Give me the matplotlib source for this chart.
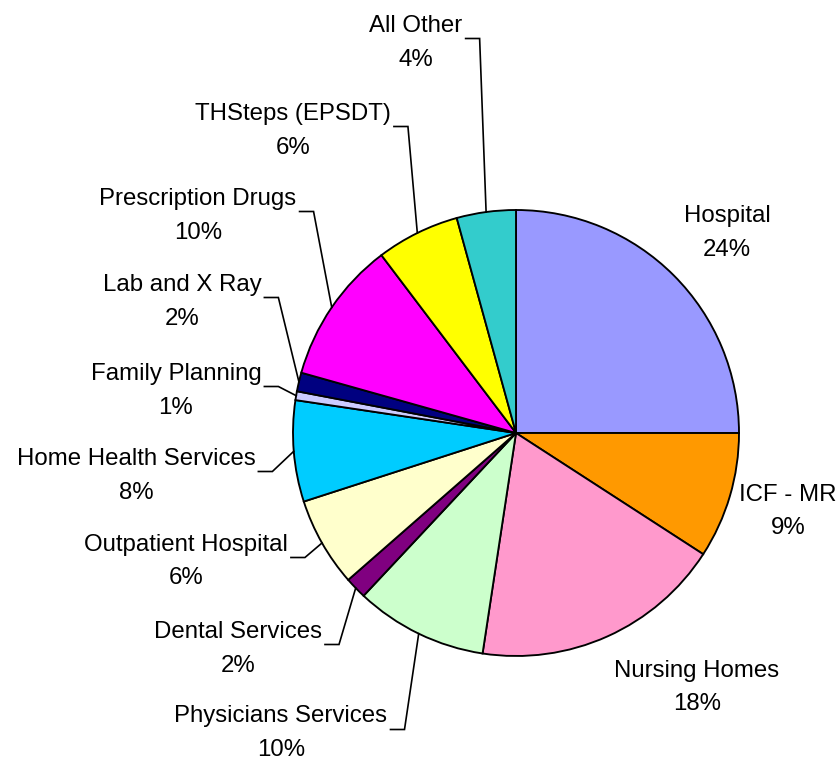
import numpy as np
import matplotlib.pyplot as plt

categories = ["Hospital", "ICF - MR", "Nursing Homes", "Physicians Services",
              "Dental Services", "Outpatient Hospital", "Home Health Services",
              "Family Planning", "Lab and X Ray", "Prescription Drugs",
              "THSteps (EPSDT)", "All Other"]
# wedge sizes as drawn (percent)
shares = [25.0, 9.14, 18.25, 9.58, 1.58, 6.47, 7.33, 0.64, 1.36, 10.33, 6.03, 4.28]
pct_labels = ["24%", "9%", "18%", "10%", "2%", "6%", "8%", "1%", "2%", "10%", "6%", "4%"]
colors = ["#9999FF", "#FF9900", "#FF99CC", "#CCFFCC", "#800080", "#FFFFCC",
          "#00CCFF", "#CCCCFF", "#000080", "#FF00FF", "#FFFF00", "#33CCCC"]

# label layout in image pixels: centre x, centre y of the first line, leader?
label_x = [727, 788, 697, 281, 238, 186, 136, 176, 182, 198, 293, 416]
label_y = [213, 492, 668, 714, 629, 542, 456, 371, 282, 196, 111, 23]
has_leader = [False, False, False] + [True] * 9

W, H = 837, 760
CX, CY, R = 516, 433, 223

fig = plt.figure(figsize=(W / 100, H / 100), dpi=100)
ax = fig.add_axes([0, 0, 1, 1])
wedges, _ = ax.pie(shares, colors=colors, startangle=90, counterclock=False,
                   center=(CX, H - CY), radius=R,
                   wedgeprops=dict(edgecolor="black", linewidth=1.35))
ax.set_xlim(0, W)
ax.set_ylim(0, H)
ax.set_aspect("equal")
ax.axis("off")

font = dict(fontsize=17.3, family=["Liberation Sans", "DejaVu Sans"], color="black")
name_texts = []
for name, pct, x, y in zip(categories, pct_labels, label_x, label_y):
    t = ax.text(x, H - (y + 8.5), name, ha="center", va="baseline", **font)
    ax.text(x, H - (y + 42.5), pct, ha="center", va="baseline", **font)
    name_texts.append(t)

fig.canvas.draw()
renderer = fig.canvas.get_renderer()
for t, w, y, lead in zip(name_texts, wedges, label_y, has_leader):
    if not lead:
        continue
    bb = t.get_window_extent(renderer)
    x0 = bb.x1 + 3
    ly = H - (y + 15.5)
    mid = np.deg2rad((w.theta1 + w.theta2) / 2)
    ex = CX + R * np.cos(mid)
    ey = (H - CY) + R * np.sin(mid)
    ax.plot([x0, x0 + 14, ex], [ly, ly, ey], color="black", lw=1.2,
            solid_joinstyle="miter")

fig.savefig("out.png", dpi=100)
